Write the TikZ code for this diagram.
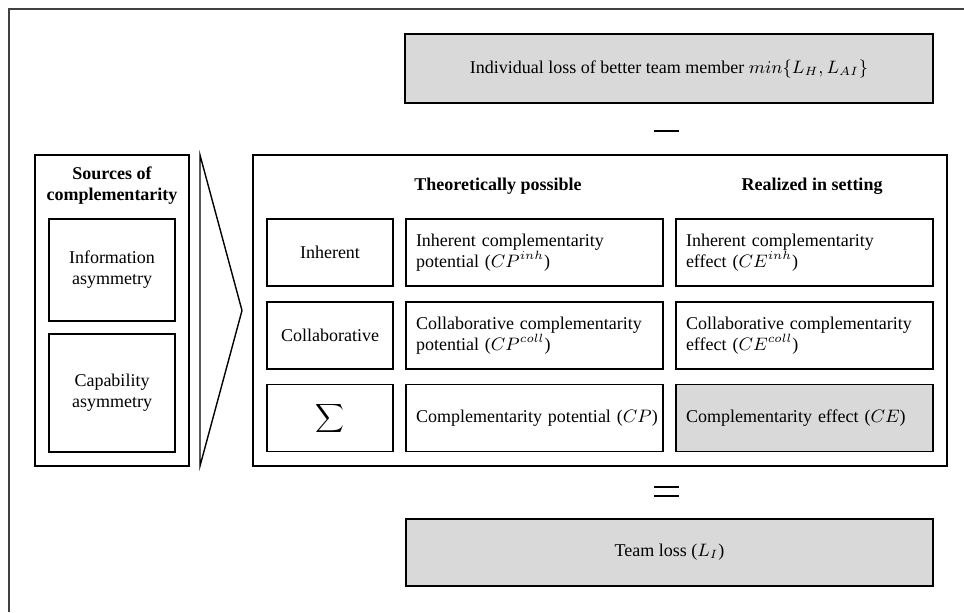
\documentclass[tikz,border=0pt]{standalone}
\usepackage{fontspec}
\setmainfont{Liberation Serif}
\begin{document}
\begin{tikzpicture}[x=0.5pt,y=-0.5pt,
  every node/.style={font=\fontsize{9}{10.5}\selectfont, inner sep=0pt, outer sep=0pt},
  box/.style={draw=black, line width=0.7pt, rectangle},
  grayfill/.style={fill=boxgray},
  cellL/.style={box, minimum width=63pt, minimum height=33.5pt, align=center},
  cellT/.style={box, minimum width=128.5pt, minimum height=33.5pt, text width=118.5pt, align=left},
  head/.style={font=\fontsize{9}{10.5}\selectfont\bfseries, align=center},
  signline/.style={line width=1pt, black}
]
\definecolor{boxgray}{HTML}{D9D9D9}
\useasboundingbox (0,0) rectangle (964,612);
% frame (top and left)
\draw[line width=0.8pt, black!75] (964,9) -- (9,9) -- (9,612);

% top box
\node[box, grayfill, minimum width=264pt, minimum height=34.5pt] (top) at (669,68.5)
  {Individual loss of better team member $min\{L_H, L_{AI}\}$};
\draw[signline] (654,131) coordinate (m1) -- (679,131) coordinate (m2);

% sources box
\node[box, minimum width=77pt, minimum height=155.5pt] (src) at (112,310.5) {};
\node[head] (srch) at (112,186) {Sources of\\complementarity};
\node[box, minimum width=63pt, minimum height=51pt, align=center] (info) at (112,270) {Information\\asymmetry};
\node[box, minimum width=63pt, minimum height=59pt, align=center] (cap) at (112,393) {Capability\\asymmetry};

% chevron
\coordinate (cv1) at (200,155);
\coordinate (cv2) at (242,310.5);
\coordinate (cv3) at (200,466);
\draw[line width=0.7pt] (cv1) -- (cv2) -- (cv3) -- cycle;

% main box
\node[box, minimum width=347pt, minimum height=155.5pt] (main) at (600,310.5) {};
\node[head] (h2) at (498,186) {Theoretically possible};
\node[head] (h3) at (812,186) {Realized in setting};

% rows
\node[cellL] (r1c1) at (330,252.5) {Inherent};
\node[cellL] (r2c1) at (330,335.5) {Collaborative};
\node[cellL] (r3c1) at (330,418) {\fontsize{11.5}{12}\selectfont$\displaystyle\sum$};

\node[cellT] (r1c2) at (534.5,252.5) {Inherent complementarity\\potential ($CP^{inh}$)};
\node[cellT] (r2c2) at (534.5,335.5) {Collaborative complementarity\\potential ($CP^{coll}$)};
\node[cellT] (r3c2) at (534.5,418) {\makebox[118.5pt][l]{Complementarity potential ($CP$)}};

\node[cellT] (r1c3) at (804.5,252.5) {Inherent complementarity\\effect ($CE^{inh}$)};
\node[cellT] (r2c3) at (804.5,335.5) {Collaborative complementarity\\effect ($CE^{coll}$)};
\node[cellT, grayfill] (r3c3) at (804.5,418) {Complementarity effect ($CE$)};

% equals
\draw[signline] (654,487) coordinate (e1) -- (679,487) coordinate (e2);
\draw[signline] (654,496) coordinate (e3) -- (679,496) coordinate (e4);

% team loss
\node[box, grayfill, minimum width=263.5pt, minimum height=33.5pt] (team) at (669.5,552.5) {Team loss ($L_I$)};
\end{tikzpicture}
\end{document}
